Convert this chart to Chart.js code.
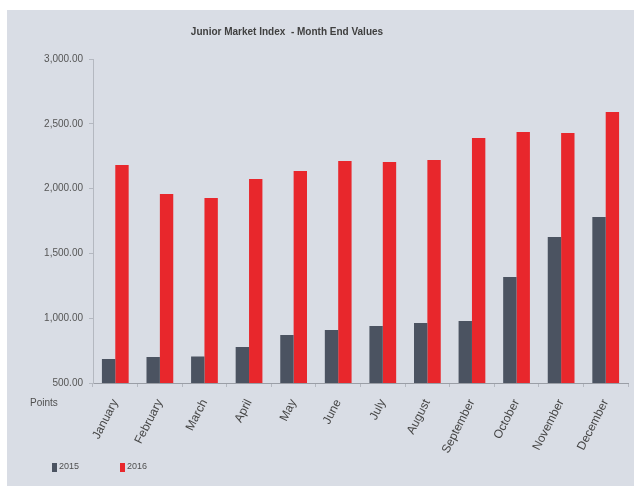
<!DOCTYPE html>
<html>
<head>
<meta charset="utf-8">
<title>Junior Market Index - Month End Values</title>
<script src="https://cdn.jsdelivr.net/npm/chart.js@4.4.1/dist/chart.umd.min.js"></script>
<style>
    html, body { margin: 0; padding: 0; background: #ffffff; }
    #wrap {
        position: absolute;
        left: 7px;
        top: 10px;
        width: 627px;
        height: 476px;
        background: #d9dde5;
    }
</style>
</head>
<body>
<div id="wrap"><canvas id="indexChart" width="627" height="476"></canvas></div>
<script>
// Month-end index values
const months = ['January', 'February', 'March', 'April', 'May', 'June',
    'July', 'August', 'September', 'October', 'November', 'December'];
const values2015 = [685, 700, 705, 778, 870, 909, 940, 963, 978, 1318, 1627, 1781];
const values2016 = [2182, 1958, 1927, 2074, 2136, 2213, 2205, 2220, 2390, 2437, 2429, 2591];
const yTicks = [500, 1000, 1500, 2000, 2500, 3000];

const FONT = "'Liberation Sans Narrow', 'Liberation Sans', 'DejaVu Sans Condensed', sans-serif";

// title, unit label and legend drawn in the spots the layout leaves for them
const extrasPlugin = {
    id: 'extras',
    afterDraw(chart) {
        const ctx = chart.ctx;
        const area = chart.chartArea;
        ctx.save();
        ctx.fillStyle = '#404040';
        ctx.font = 'bold 10px ' + FONT;
        ctx.textAlign = 'center';
        ctx.textBaseline = 'middle';
        ctx.fillText('Junior Market Index  - Month End Values', 280, 22);

        ctx.font = '10px ' + FONT;
        ctx.fillStyle = '#505050';
        ctx.textAlign = 'left';
        ctx.fillText('Points', 23, area.bottom + 20);

        ctx.font = '9px ' + FONT;
        let x = 45;
        const y = 457;
        chart.data.datasets.forEach(ds => {
            ctx.fillStyle = ds.backgroundColor;
            ctx.fillRect(x, y - 4, 5, 9);
            ctx.fillStyle = '#505050';
            ctx.fillText(ds.label, x + 7, y);
            x += 68;
        });
        ctx.restore();
    }
};

const ctx = document.getElementById('indexChart').getContext('2d');
const indexChart = new Chart(ctx, {
    type: 'bar',
    data: {
        labels: months,
        datasets: [{
            label: '2015',
            data: values2015,
            backgroundColor: '#4b5361',
            categoryPercentage: 0.6,
            barPercentage: 1.0
        }, {
            label: '2016',
            data: values2016,
            backgroundColor: '#e8272c',
            categoryPercentage: 0.6,
            barPercentage: 1.0
        }]
    },
    options: {
        responsive: false,
        animation: false,
        layout: {
            padding: { top: 49, right: 6, bottom: 10, left: 0 }
        },
        plugins: {
            legend: { display: false },
            title: { display: false },
            tooltip: { enabled: false }
        },
        scales: {
            x: {
                offset: true,
                grid: {
                    display: true,
                    drawOnChartArea: false,
                    drawTicks: true,
                    tickLength: 4,
                    color: '#b4b8c0',
                    offset: true
                },
                border: { display: true, color: '#9a9ea6' },
                ticks: {
                    minRotation: 63,
                    maxRotation: 63,
                    autoSkip: false,
                    color: '#454545',
                    padding: 10,
                    font: { family: FONT, size: 12 }
                },
                afterFit(scale) { scale.height = 93; }
            },
            y: {
                min: 500,
                max: 3000,
                afterBuildTicks(scale) {
                    scale.ticks = yTicks.map(v => ({ value: v }));
                },
                grid: {
                    display: true,
                    drawOnChartArea: false,
                    drawTicks: true,
                    tickLength: 4,
                    color: '#b4b8c0'
                },
                border: { display: true, color: '#b4b8c0' },
                ticks: {
                    color: '#555555',
                    padding: 6,
                    font: { family: FONT, size: 10 },
                    callback: v => v.toLocaleString('en-US', { minimumFractionDigits: 2, maximumFractionDigits: 2 })
                },
                afterFit(scale) { scale.width = 86; }
            }
        }
    },
    plugins: [extrasPlugin]
});
</script>
</body>
</html>
